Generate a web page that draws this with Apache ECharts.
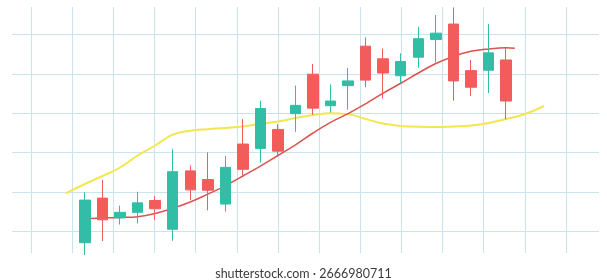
<!DOCTYPE html>
<html>
<head>
<meta charset="utf-8">
<script src="https://cdn.jsdelivr.net/npm/echarts@6/dist/echarts.min.js"></script>
<style>
html,body{margin:0;padding:0;background:#fff;}
#chart{width:607px;height:280px;}
</style>
</head>
<body>
<div id="chart"></div>
<script>
// ---- data ----
const categories = ['1','2','3','4','5','6','7','8','9','10','11','12','13','14','15','16','17','18','19','20','21','22','23','24','25'];
// [open, close, low, high]
const candles = [
  [7.2, 18.0, 4.1, 20.0],
  [18.5, 13.0, 7.6, 23.1],
  [13.5, 14.9, 11.8, 16.6],
  [14.9, 17.3, 12.1, 20.1],
  [17.9, 15.8, 13.0, 19.0],
  [10.6, 25.2, 7.7, 30.9],
  [25.4, 20.6, 18.0, 26.8],
  [23.2, 20.5, 15.4, 30.1],
  [17.0, 26.3, 15.1, 29.2],
  [32.2, 25.8, 24.2, 38.5],
  [31.1, 41.2, 27.5, 43.2],
  [35.9, 30.4, 29.0, 37.2],
  [39.9, 42.0, 35.3, 47.0],
  [49.9, 41.3, 39.6, 52.5],
  [41.9, 43.1, 40.2, 47.3],
  [47.0, 48.2, 40.9, 51.5],
  [57.0, 48.4, 46.6, 59.2],
  [53.8, 50.2, 43.7, 56.4],
  [49.5, 53.1, 47.6, 55.2],
  [54.2, 58.9, 51.5, 61.9],
  [58.7, 60.3, 52.9, 64.9],
  [62.6, 48.2, 43.2, 66.8],
  [50.8, 46.6, 44.4, 53.5],
  [50.9, 55.3, 45.1, 62.6],
  [53.5, 43.1, 38.5, 56.6]
];
// moving-average style lines: [candle index, value]
const redLine = [
  [0,13.3],[1,13.45],[2,13.6],[3,13.8],[4,14.6],[5,15.9],[6,17.5],[7,19.5],[8,21.6],[9,24.1],
  [10,26.6],[11,29.3],[12,32.0],[13,35.0],[14,37.7],[15,39.9],[16,42.4],[17,45.1],[18,47.6],
  [19,50.2],[20,52.6],[21,54.4],[22,55.7],[23,56.3],[24,56.6],[24.5,56.5]
];
const yellowLine = [
  [-1.1,19.72],[0,22.08],[1,24.1],[2,26.26],[3,29.3],[4,31.83],[5,34.57],[6,35.58],[7,35.96],
  [8,36.27],[9,36.65],[10,37.28],[11,37.91],[12,38.80],[13,39.56],[14,39.99],[15,39.76],
  [16,38.55],[17,37.41],[18,36.77],[19,36.59],[20,36.52],[21,36.65],[22,36.90],[23,37.53],
  [24,38.55],[25,39.69],[26.17,41.84]
];
const hGridTicks = [10, 60, 10];   // min, max, interval of horizontal grid lines
const vGridTicks = [0, 13, 1];     // min, max, interval of vertical grid lines
const caption = 'shutterstock.com · 2666980711';

// ---- chart ----
const gridColor = '#c9e4ee';
const hidden = {axisLine:{show:false},axisTick:{show:false},axisLabel:{show:false},splitLine:{show:false}};
const chart = echarts.init(document.getElementById('chart'), null, {renderer:'canvas'});
const yMin = 2.5, yMax = 67.5;
chart.setOption({
  animation:false,
  backgroundColor:'#ffffff',
  title:{
    text: caption, left:'center', top:262,
    textStyle:{fontSize:12.5, fontWeight:'normal', color:'#3c3c3c', fontFamily:'Lato, "Open Sans", sans-serif'}
  },
  grid:[
    {left:12, right:8, top:34.33, bottom:48.33},
    {left:31, right:41, top:7, bottom:27},
    {left:76.23, right:92.23, top:4.72, bottom:18.73},
    {left:58.69, right:57.15, top:4.72, bottom:18.73}
  ],
  xAxis:[
    Object.assign({type:'value', gridIndex:0, min:0, max:1}, hidden),
    Object.assign({}, hidden, {type:'value', gridIndex:1, min:vGridTicks[0], max:vGridTicks[1], interval:vGridTicks[2],
      splitLine:{show:true, lineStyle:{color:gridColor, width:1}}}),
    Object.assign({type:'category', gridIndex:2, data:categories, boundaryGap:true}, hidden),
    Object.assign({type:'value', gridIndex:3, min:-1.5, max:26.5}, hidden)
  ],
  yAxis:[
    Object.assign({}, hidden, {type:'value', gridIndex:0, min:hGridTicks[0], max:hGridTicks[1], interval:hGridTicks[2],
      splitLine:{show:true, lineStyle:{color:gridColor, width:1}}}),
    Object.assign({type:'value', gridIndex:1, min:0, max:1}, hidden),
    Object.assign({type:'value', gridIndex:2, min:yMin, max:yMax, scale:true}, hidden),
    Object.assign({type:'value', gridIndex:3, min:yMin, max:yMax, scale:true}, hidden)
  ],
  series:[
    {type:'line', xAxisIndex:3, yAxisIndex:3, data:yellowLine, smooth:0.5, symbol:'none',
      lineStyle:{color:'#f4e64f', width:2}, z:2},
    {type:'line', xAxisIndex:3, yAxisIndex:3, data:redLine, smooth:0.4, symbol:'none',
      lineStyle:{color:'#d9534f', width:1.5}, z:3},
    {type:'candlestick', xAxisIndex:2, yAxisIndex:2, data:candles, barWidth:11, z:4,
      itemStyle:{color:'#32bea6', color0:'#f25c5b', borderColor:'#32bea6', borderColor0:'#f25c5b', borderWidth:1}}
  ]
});
</script>
</body>
</html>
